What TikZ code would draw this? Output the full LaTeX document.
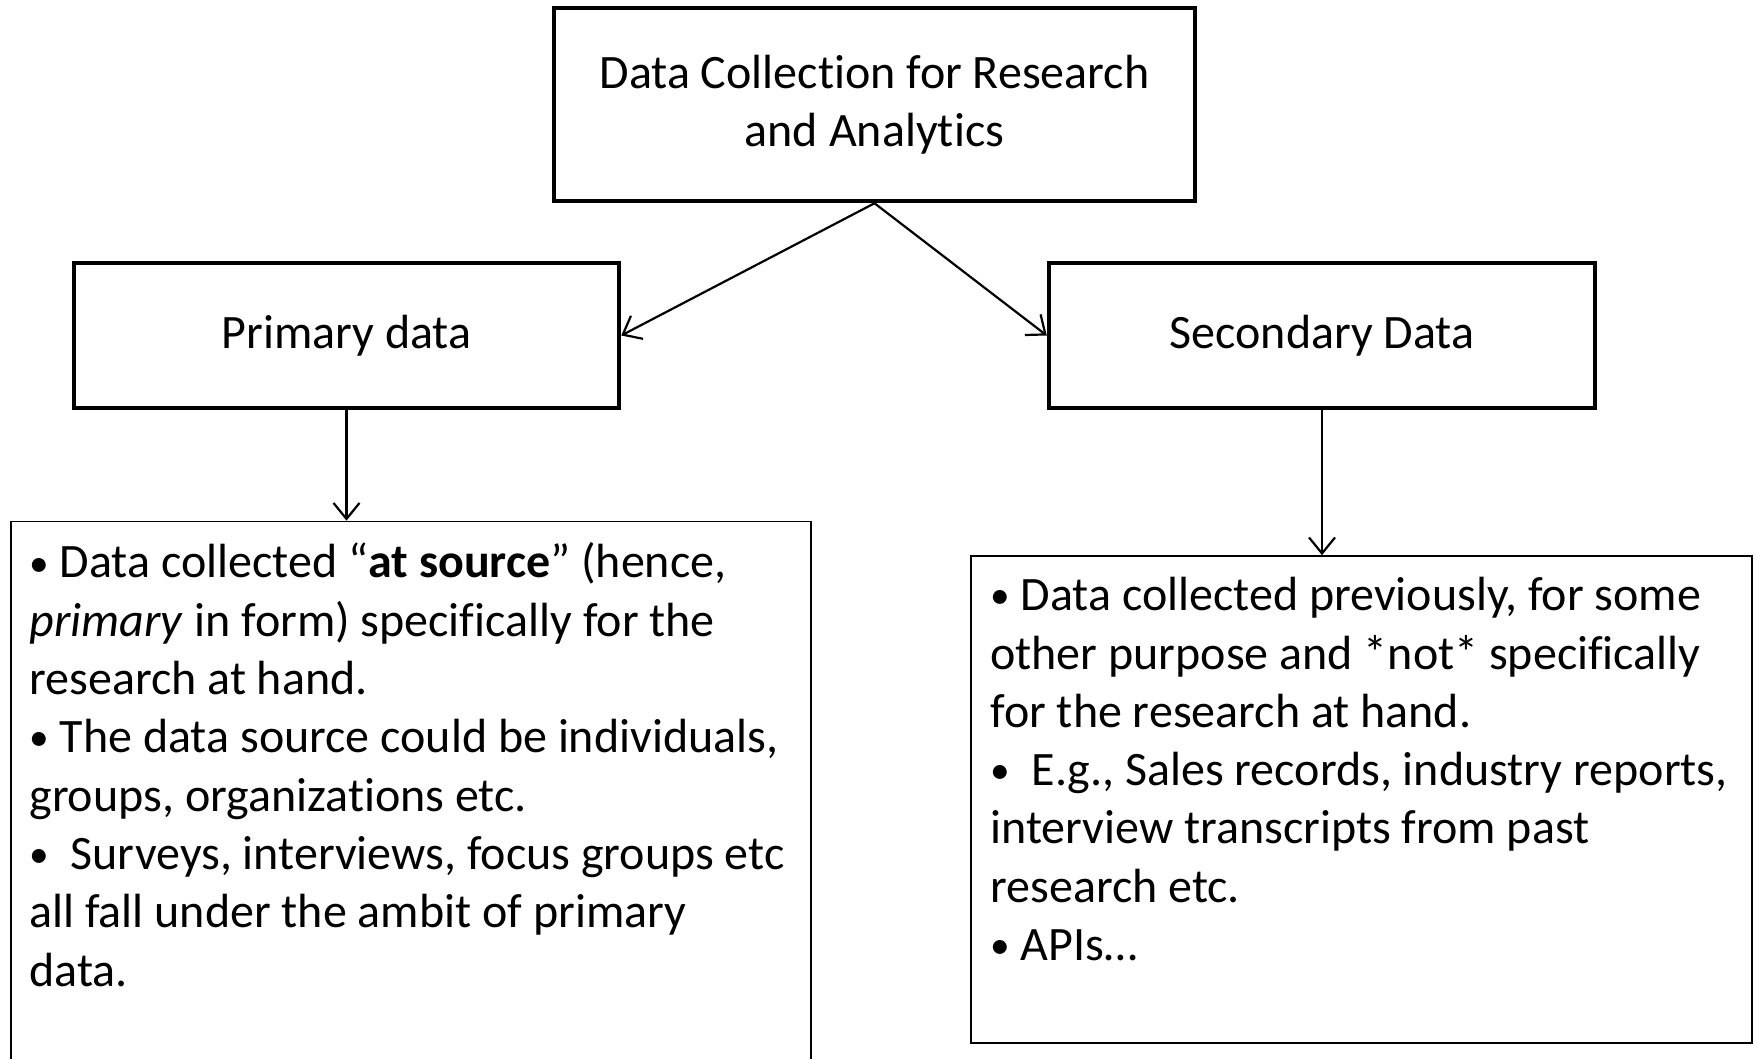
\documentclass[tikz,border=0pt]{standalone}
\usepackage{graphicx}
\usepackage{fontspec}
\setmainfont{Carlito}[Ligatures=NoCommon]
\usetikzlibrary{arrows.meta,calc}

% small raised bullet as used in the lists
\newcommand{\bul}{\raisebox{0.04em}{\scalebox{0.82}{\textbullet}}}

\tikzset{
  headbox/.style={draw, line width=4.5pt, rectangle, inner sep=0pt, align=center,
    font=\fontsize{48}{58.3}\selectfont},
  textbox/.style={draw, line width=1.6pt, rectangle, inner sep=0pt},
  bodytext/.style={anchor=north west, inner sep=0pt, align=left,
    font=\fontsize{48}{58.3}\selectfont},
  link/.style={line width=2.2pt, -{Straight Barb[length=16pt,width=26pt,line width=2.2pt]}},
}

\begin{document}
\begin{tikzpicture}[x=1pt, y=-1pt]
  \useasboundingbox (0,0) rectangle (1758,1059);

  % heading boxes
  \node[headbox, minimum width=641, minimum height=193] (top) at (874.5,104.5)
    {Data Collection for Research\\and Analytics};
  \node[headbox, minimum width=545, minimum height=145] (prim) at (346.5,335.5)
    {Primary data};
  \node[headbox, minimum width=546, minimum height=145] (sec) at (1322,335.5)
    {Secondary Data};

  % description boxes
  \node[textbox, minimum width=800, minimum height=545] (lbox) at (411,794) {};
  \node[textbox, minimum width=781, minimum height=487] (rbox) at (1361.5,799.5) {};

  \node[bodytext] (ltext) at ($(lbox.north west)+(19,22)$)
    {\bul\ Data collected “\textbf{at source}” (hence,\\
     \textit{primary} in form) specifically for the\\
     research at hand.\\
     \bul\ The data source could be individuals,\\
     groups, organizations etc.\\
     \bul\ \ Surveys, interviews, focus groups etc\\
     all fall under the ambit of primary\\
     data.};

  \node[bodytext] (rtext) at ($(rbox.north west)+(20,22)$)
    {\bul\ Data collected previously, for some\\
     other purpose and *not* specifically\\
     for the research at hand.\\
     \bul\ \ E.g., Sales records, industry reports,\\
     interview transcripts from past\\
     research etc.\\
     \bul\ APIs…};

  % connectors
  \draw[link] (top.south) -- (prim.east);
  \draw[link] (top.south) -- (sec.west);
  \draw[link] (prim.south) -- (prim.south |- lbox.north);
  \draw[link] (sec.south) -- (sec.south |- rbox.north);
\end{tikzpicture}
\end{document}
